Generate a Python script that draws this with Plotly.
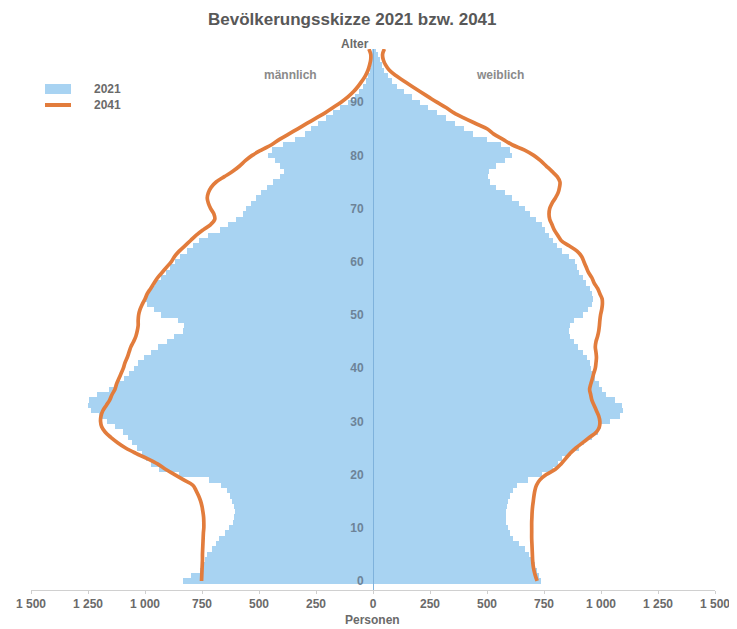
import plotly.graph_objects as go

ages = list(range(0, 101))

male_2021 = [835, 800, 760, 745, 735, 727, 705, 690, 675, 650,
             630, 615, 610, 605, 610, 620, 628, 640, 665, 720,
             850, 940, 975, 995, 1015, 1035, 1055, 1075, 1095, 1130,
             1165, 1200, 1237, 1250, 1246, 1210, 1160, 1128, 1090, 1070,
             1050, 1030, 1005, 975, 945, 905, 875, 835, 830, 855,
             930, 960, 990, 1000, 990, 975, 955, 930, 910, 890,
             870, 845, 815, 790, 765, 725, 670, 635, 600, 570,
             555, 535, 515, 490, 465, 440, 410, 390, 410, 430,
             460, 445, 395, 340, 300, 270, 240, 205, 175, 145,
             108, 80, 60, 45, 30, 20, 14, 9, 6, 4, 3]

female_2021 = [738, 730, 720, 710, 695, 685, 665, 640, 615, 600,
               590, 585, 583, 583, 586, 590, 600, 612, 630, 680,
               740, 790, 810, 830, 870, 905, 925, 960, 985, 1000,
               1040, 1085, 1095, 1090, 1060, 1020, 1005, 990, 975, 965,
               955, 950, 940, 920, 900, 880, 865, 860, 862, 880,
               920, 945, 960, 965, 962, 950, 935, 920, 905, 895,
               885, 860, 830, 805, 790, 770, 755, 740, 715, 690,
               665, 640, 610, 580, 540, 515, 505, 510, 540, 580,
               610, 600, 560, 500, 440, 400, 360, 320, 280, 240,
               205, 170, 135, 105, 85, 65, 50, 40, 30, 22, 14]

male_2041 = [752, 751, 750, 749, 748, 748, 747, 746, 745, 744,
             742, 742, 743, 746, 750, 756, 765, 776, 790, 830,
             870, 910, 945, 990, 1040, 1085, 1120, 1150, 1175, 1190,
             1195, 1193, 1185, 1170, 1155, 1145, 1132, 1125, 1115, 1105,
             1095, 1088, 1078, 1070, 1062, 1050, 1040, 1034, 1030, 1030,
             1028, 1022, 1012, 1000, 990, 975, 960, 945, 925, 905,
             885, 870, 850, 825, 800, 775, 745, 712, 694, 698,
             712, 722, 727, 722, 710, 688, 652, 615, 585, 560,
             530, 490, 445, 410, 370, 330, 290, 250, 210, 175,
             140, 110, 85, 65, 48, 33, 22, 15, 10, 10, 18]

female_2041 = [720, 712, 706, 702, 700, 699, 698, 697, 696, 696,
               696, 696, 697, 698, 700, 703, 706, 710, 717, 732,
               760, 800, 825, 845, 865, 890, 920, 950, 980, 993,
               995, 990, 980, 970, 960, 955, 950, 955, 962, 968,
               975, 978, 980, 978, 975, 978, 985, 990, 993, 995,
               998, 1003, 1006, 1005, 995, 985, 970, 960, 945, 935,
               925, 915, 895, 860, 825, 810, 795, 785, 775, 772,
               775, 785, 800, 812, 818, 820, 808, 785, 760, 735,
               705, 665, 610, 570, 530, 500, 450, 400, 355, 320,
               280, 243, 206, 170, 135, 100, 72, 55, 45, 42, 50]

x_tickvals = [-1500, -1250, -1000, -750, -500, -250, 0, 250, 500, 750, 1000, 1250, 1500]
x_ticktext = ["1 500", "1 250", "1 000", "750", "500", "250", "0",
              "250", "500", "750", "1 000", "1 250", "1 500"]
y_tickvals = [0, 10, 20, 30, 40, 50, 60, 70, 80, 90]

BLUE = "#a8d3f2"
ORANGE = "#e27c3c"
OFF = 8                      # page body margin of the browser
W, H = 737 - OFF, 629 - OFF  # figure size so that it fits the window
ML, MR, MT, MB = 31 - OFF, 22, 49 - OFF, 39
PW, PH = W - ML - MR, H - MT - MB


def px(x):
    """page pixel x -> paper fraction"""
    return (x - OFF - ML) / PW


def py(y):
    """page pixel y -> paper fraction"""
    return (H - MB - (y - OFF)) / PH


fig = go.Figure()
fig.add_trace(go.Bar(y=ages, x=[-v for v in male_2021], orientation="h", width=1,
                     marker=dict(color=BLUE, line=dict(width=0)), showlegend=False,
                     hoverinfo="skip"))
fig.add_trace(go.Bar(y=ages, x=female_2021, orientation="h", width=1,
                     marker=dict(color=BLUE, line=dict(width=0)), showlegend=False,
                     hoverinfo="skip"))
fig.add_trace(go.Scatter(y=ages, x=[-v for v in male_2041], mode="lines",
                         line=dict(color=ORANGE, width=3.7, shape="spline", smoothing=1.0),
                         showlegend=False, hoverinfo="skip"))
fig.add_trace(go.Scatter(y=ages, x=female_2041, mode="lines",
                         line=dict(color=ORANGE, width=3.7, shape="spline", smoothing=1.0),
                         showlegend=False, hoverinfo="skip"))

FONT = "Liberation Sans"
fig.update_layout(
    width=W, height=H,
    margin=dict(l=ML, r=MR, t=MT, b=MB, pad=0, autoexpand=False),
    paper_bgcolor="white", plot_bgcolor="white",
    barmode="overlay", bargap=0,
    font=dict(family=FONT, color="#666666"),
    xaxis=dict(range=[-1500, 1500], tickvals=x_tickvals, ticktext=x_ticktext,
               showgrid=False, zeroline=False, showline=True, linecolor="#d0d0d0",
               linewidth=1, ticks="outside", ticklen=3, tickcolor="#cfcfcf",
               tickfont=dict(family=FONT, size=12, color="#6a6a6a", weight="bold"),
               automargin=False, fixedrange=True),
    yaxis=dict(range=[-1.7, 100], tickvals=y_tickvals, anchor="free", position=0.5,
               showgrid=False, zeroline=False, showline=True, linecolor="#7fb2dc",
               linewidth=1, ticks="", ticklabelposition="outside left",
               ticklabelstandoff=7,
               tickfont=dict(family=FONT, size=12, color="#6d8398", weight="bold"),
               automargin=False, fixedrange=True),
    showlegend=False,
)

annotations = [
    dict(text="<b>Bevölkerungsskizze 2021 bzw. 2041</b>", x=px(352), y=py(20),
         font=dict(size=17, color="#585858")),
    dict(text="<b>Alter</b>", x=px(355), y=py(44), font=dict(size=12, color="#6a6a6a")),
    dict(text="<b>männlich</b>", x=px(290), y=py(75), font=dict(size=12, color="#8a8a8a")),
    dict(text="<b>weiblich</b>", x=px(500), y=py(75), font=dict(size=12, color="#8a8a8a")),
    dict(text="<b>Personen</b>", x=px(372), y=py(620), font=dict(size=12, color="#6a6a6a")),
    dict(text="<b>2021</b>", x=px(92), y=py(89), xanchor="left",
         font=dict(size=12, color="#6a6a6a")),
    dict(text="<b>2041</b>", x=px(92), y=py(105), xanchor="left",
         font=dict(size=12, color="#6a6a6a")),
]
for a in annotations:
    a.setdefault("xanchor", "center")
    a.update(xref="paper", yref="paper", yanchor="middle", showarrow=False)
fig.update_layout(annotations=annotations)

fig.add_shape(type="rect", xref="paper", yref="paper", x0=px(45), x1=px(71),
              y0=py(94), y1=py(84), fillcolor=BLUE, line=dict(width=0))
fig.add_shape(type="rect", xref="paper", yref="paper", x0=px(45), x1=px(71),
              y0=py(107), y1=py(103), fillcolor=ORANGE, line=dict(width=0))

fig.write_html("out.html")
